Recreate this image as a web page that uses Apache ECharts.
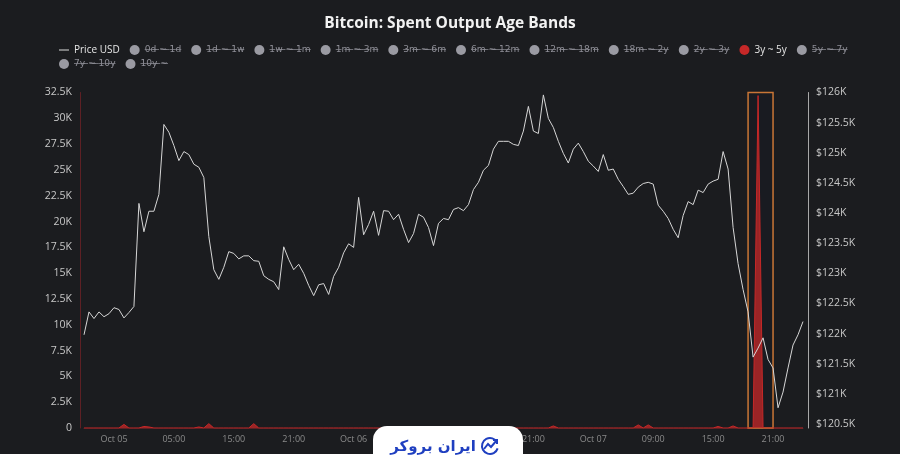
<!DOCTYPE html>
<html><head><meta charset="utf-8">
<script src="https://cdn.jsdelivr.net/npm/echarts@6/dist/echarts.min.js"></script>
<style>html,body{margin:0;padding:0;background:#1b1c1f}#c{width:900px;height:471px}</style>
</head><body><div id="c"></div>
<script>
// x-axis tick labels (shown every 12 points, starting at point 6)
const tickLabels = ['Oct 05','05:00','15:00','21:00','Oct 06','09:00','15:00','21:00','Oct 07','09:00','15:00','21:00'];

// Bitcoin price (USD), right axis
const priceUSD = [
  121980,122360,122250,122360,122280,122330,122430,122400,122260,122350,
  122450,124160,123690,124030,124030,124310,125470,125340,125120,124870,
  125020,124970,124810,124760,124590,123610,123060,122900,123100,123360,
  123330,123240,123290,123290,123210,123200,122960,122900,122860,122730,
  123440,123230,123060,123150,123000,122800,122630,122810,122830,122650,
  122950,123100,123340,123490,123430,124260,123640,123810,124030,123630,
  124040,124030,123890,123980,123730,123510,123660,123980,123930,123760,
  123460,123830,123910,123890,124060,124090,124040,124140,124390,124510,
  124710,124790,125060,125190,125190,125190,125140,125120,125360,125770,
  125360,125320,125960,125570,125420,125190,124990,124830,125060,125160,
  125020,124860,124780,124690,124970,124710,124730,124560,124440,124310,
  124330,124430,124490,124510,124480,124130,124030,123910,123730,123590,
  123960,124190,124140,124380,124340,124480,124530,124560,125020,124730,
  123760,123160,122730,122360,121610,121760,121930,121570,121430,120770,
  121030,121430,121810,121980,122200
];

// Spent outputs aged 3y ~ 5y (BTC), left axis
const band3y5y = [
  0,0,0,0,0,0,0,0,350,0,0,0,
  150,100,0,0,0,0,0,0,0,0,0,100,
  0,420,0,0,0,0,0,0,0,0,420,0,
  0,0,0,0,0,0,0,0,0,0,0,0,
  0,0,0,0,0,0,0,0,0,0,0,0,
  0,0,0,0,0,0,0,0,0,0,0,0,
  0,0,0,0,0,0,0,0,0,0,0,0,
  0,0,0,0,0,0,0,0,0,0,200,0,
  0,0,0,0,0,0,0,0,0,0,0,0,
  0,0,0,300,0,300,0,0,0,0,0,0,
  0,0,0,0,0,0,0,150,0,0,200,0,
  0,0,0,32200,0,0,0,0,0,0,0,0,
  0
];

const bandNames = ['0d ~ 1d','1d ~ 1w','1w ~ 1m','1m ~ 3m','3m ~ 6m','6m ~ 12m','12m ~ 18m','18m ~ 2y','2y ~ 3y','3y ~ 5y','5y ~ 7y','7y ~ 10y','10y ~'];
const activeBand = '3y ~ 5y';
const highlightRange = ['133','138'];

const firstTick = 6, tickStep = 12;
const categories = priceUSD.map((_, i) => String(i));

const selected = {'Price USD': true};
bandNames.forEach(n => selected[n] = (n === activeBand));

const strike = s => s.split('').map(c => c + '\u0336').join('');
const legendFmt = name => selected[name] ? name : '{s|' + strike(name) + '}';

const FONT = 'Open Sans';
const legendCommon = {
  left: 54, itemWidth: 10, itemHeight: 10, itemGap: 10,
  icon: 'circle', inactiveColor: '#9a9aa2',
  textStyle: {color: '#e6e6e6', fontSize: 10, fontFamily: FONT,
    rich: {s: {fontSize: 9.1, fontFamily: '"DejaVu Sans"', color: '#8e8e96'}}},
  selected: selected, formatter: legendFmt
};

const series = [{
  name: 'Price USD', type: 'line', yAxisIndex: 1, data: priceUSD,
  showSymbol: false, symbol: 'none', color: '#dcdcdc',
  lineStyle: {width: 1, color: '#d6d6d6'}, z: 5
}];
bandNames.forEach(n => {
  const s = {
    name: n, type: 'line', yAxisIndex: 0, showSymbol: false, symbol: 'none',
    data: n === activeBand ? band3y5y : [],
    color: n === activeBand ? '#c62828' : '#888',
    lineStyle: {width: 1}, areaStyle: {opacity: 0.75}
  };
  if (n === activeBand) {
    s.markArea = {
      silent: true,
      itemStyle: {color: 'rgba(20,22,40,0.25)', borderColor: '#c97636', borderWidth: 1.5},
      data: [[{xAxis: highlightRange[0]}, {xAxis: highlightRange[1]}]]
    };
  }
  series.push(s);
});

const rightTicks = [120500,121000,121500,122000,122500,123000,123500,124000,124500,125000,125500,126000];

const chart = echarts.init(document.getElementById('c'), null, {renderer: 'canvas'});
chart.setOption({
  backgroundColor: '#1b1c1f',
  animation: false,
  title: {text: 'Bitcoin: Spent Output Age Bands', left: 'center', top: 11,
    textStyle: {color: '#f2f2f2', fontSize: 15.5, fontWeight: 'bold', fontFamily: FONT}},
  legend: [
    Object.assign({}, legendCommon, {top: 40, data: [{name: 'Price USD', icon: 'path://M0,0H10V1H0Z'}].concat(bandNames.slice(0, 11))}),
    Object.assign({}, legendCommon, {top: 54, data: bandNames.slice(11)})
  ],
  grid: {left: 84, right: 97, top: 92.5, bottom: 43},
  xAxis: {
    type: 'category', data: categories, boundaryGap: false,
    axisLine: {lineStyle: {color: '#5e2024'}},
    axisTick: {show: false},
    axisLabel: {
      color: '#8a8a8a', fontSize: 9, fontFamily: FONT, margin: 7,
      interval: (i) => i >= firstTick && (i - firstTick) % tickStep === 0,
      formatter: (v, i) => tickLabels[(i - firstTick) / tickStep] || ''
    },
    splitLine: {show: false}
  },
  yAxis: [{
    type: 'value', min: 0, max: 32500, interval: 2500, offset: 4,
    axisLine: {show: true, lineStyle: {color: '#5e2024'}},
    axisTick: {show: false}, splitLine: {show: false},
    axisLabel: {color: '#c8c8c8', fontSize: 10.5, fontFamily: FONT, margin: 8,
      formatter: v => v === 0 ? '0' : (v / 1000) + 'K'}
  }, {
    type: 'value', position: 'right', min: 120434, max: 126000, offset: 5,
    axisLine: {show: true, lineStyle: {color: '#a8a8a8'}},
    axisTick: {show: false}, splitLine: {show: false},
    axisLabel: {color: '#c8c8c8', fontSize: 10.5, fontFamily: FONT, margin: 8,
      customValues: rightTicks,
      formatter: v => '$' + (v / 1000) + 'K'}
  }],
  series: series,
  graphic: [
    {type: 'rect', z: 100, shape: {x: 0, y: 454, width: 900, height: 17}, style: {fill: '#ffffff'}},
    {type: 'rect', z: 100, shape: {x: 373, y: 426, width: 150, height: 50, r: [14, 14, 0, 0]}, style: {fill: '#ffffff'}},
    {type: 'text', z: 101, style: {x: 433, y: 447, text: 'ایران بروکر', fill: '#1f3fc0',
      font: 'bold 15px "DejaVu Sans"', align: 'center', verticalAlign: 'middle'}},
    {type: 'arc', z: 101, shape: {cx: 490, cy: 446, r: 8, startAngle: 0.3, endAngle: 5.6}, style: {stroke: '#1f3fc0', lineWidth: 2, fill: null}},
    {type: 'polyline', z: 101, shape: {points: [[484, 449], [488, 444], [491, 447], [497, 440]]}, style: {stroke: '#1f3fc0', lineWidth: 2, fill: null}},
    {type: 'polyline', z: 101, shape: {points: [[493, 440], [497, 440], [497, 444]]}, style: {stroke: '#1f3fc0', lineWidth: 2, fill: null}}
  ]
});
</script>
</body></html>
